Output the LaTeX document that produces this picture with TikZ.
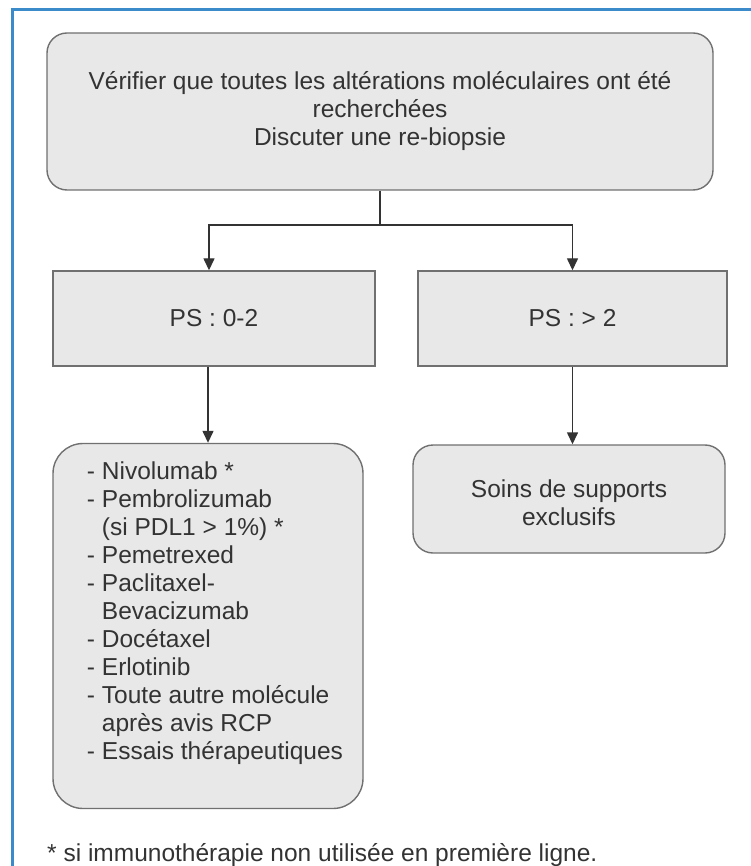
\documentclass[tikz,border=0pt]{standalone}
\usepackage{fontspec}
\setmainfont{Liberation Sans}
\usetikzlibrary{arrows.meta}

\definecolor{frameblue}{HTML}{3B8BCB}
\definecolor{boxgray}{HTML}{E8E8E8}
\definecolor{edgegray}{HTML}{707070}
\definecolor{inkgray}{HTML}{333333}

\begin{document}
\begin{tikzpicture}[x=1pt, y=-1pt]
	\tikzset{bx/.style={draw=edgegray, fill=boxgray, line width=1.4pt, text=inkgray, inner sep=0pt, align=center, font=\fontsize{24.5}{28}\selectfont},
		rbx/.style={bx, rounded corners=20pt},
		arr/.style={-{Triangle[width=11pt, length=12pt]}, line width=1.4pt, draw=inkgray}};

	\useasboundingbox (0,0) rectangle (750,866);
	\draw[frameblue, line width=3pt] (12,870) -- (12,10) -- (755,10);

	\node[rbx, minimum width=666pt, minimum height=157pt] (verif) at (380,111.5) {V\'erifier que toutes les alt\'erations mol\'eculaires ont \'et\'e\\ recherch\'ees\\ Discuter une re-biopsie};
	\node[bx, minimum width=322pt, minimum height=95pt] (ps02) at (214,318.5) {PS : 0-2};
	\node[bx, minimum width=309pt, minimum height=95pt] (ps2) at (572.5,318.5) {PS : > 2};
	\node[rbx, rounded corners=30pt, minimum width=310pt, minimum height=365pt] (trt) at (208,626) {\begin{tabular}{@{\hspace{32pt}}l@{\hspace{18pt}}}
		- Nivolumab *\\
		- Pembrolizumab\\
		\phantom{- }(si PDL1 > 1\%) *\\
		- Pemetrexed\\
		- Paclitaxel-\\
		\phantom{- }Bevacizumab\\
		- Doc\'etaxel\\
		- Erlotinib\\
		- Toute autre mol\'ecule\\
		\phantom{- }apr\`es avis RCP\\
		- Essais th\'erapeutiques\\[24pt]
	\end{tabular}};
	\node[rbx, minimum width=312pt, minimum height=108pt] (soins) at (569,499) {\rule{0pt}{26pt}Soins de supports\\ exclusifs};

	\node[anchor=base west, inner sep=0pt, text=inkgray, font=\fontsize{24.5}{28}\selectfont] (note) at (47,861) {* si immunoth\'erapie non utilis\'ee en premi\`ere ligne.};

	\coordinate (split) at (380,225);
	\coordinate (jl) at (209,225);

	\draw[line width=1.4pt, inkgray] (verif.south) to (split);
	\draw[arr] (split) -| (jl |- ps02.north);
	\draw[arr] (split) -| (ps2.north);

	\draw[arr] (trt.north |- ps02.south) to (trt.north);
	\draw[arr] (ps2.south) to (ps2.south |- soins.north);
\end{tikzpicture}
\end{document}
